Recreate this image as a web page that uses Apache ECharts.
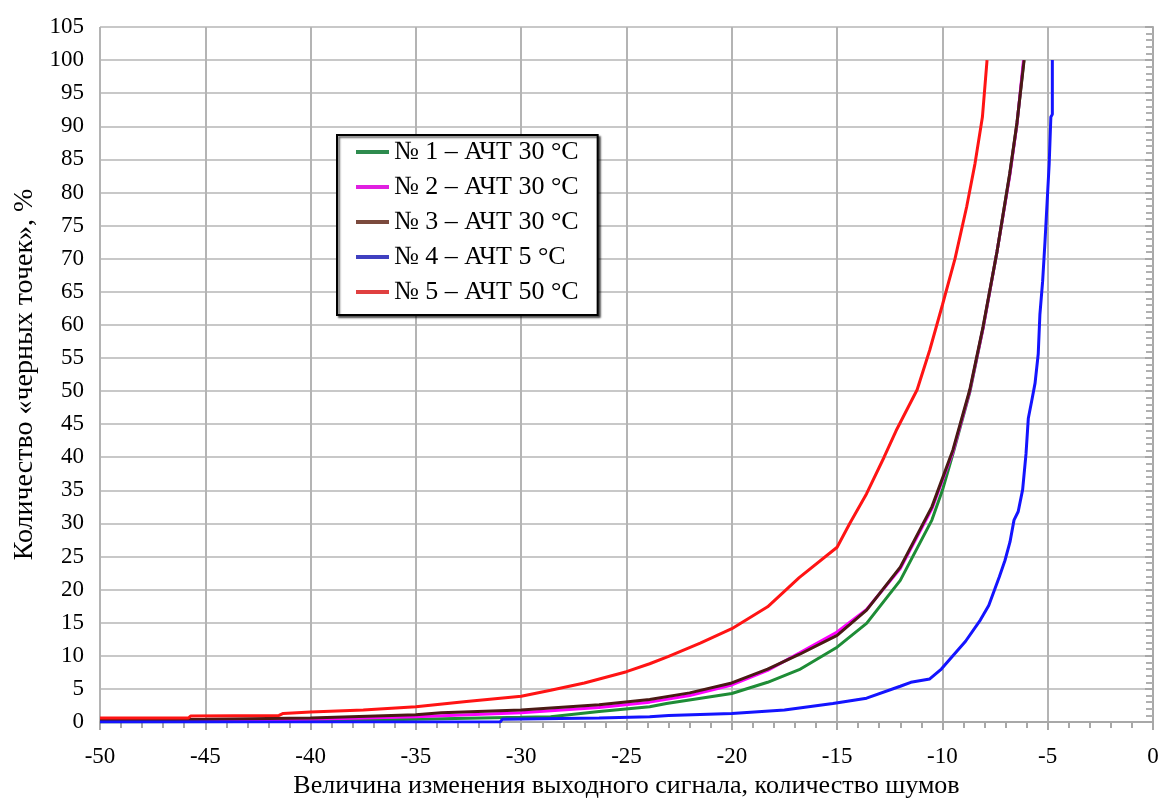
<!DOCTYPE html>
<html><head><meta charset="utf-8">
<script src="https://cdn.jsdelivr.net/npm/echarts@6/dist/echarts.min.js"></script>
<style>html,body{margin:0;padding:0;background:#fff}#c{width:1159px;height:798px}</style>
</head><body><div id="c"></div>
<script>
const seriesNames = ['№ 1 – АЧТ 30 °C','№ 2 – АЧТ 30 °C','№ 3 – АЧТ 30 °C','№ 4 – АЧТ 5 °C','№ 5 – АЧТ 50 °C'];
const xTicks = [-50,-45,-40,-35,-30,-25,-20,-15,-10,-5,0];
const yTicks = [0,5,10,15,20,25,30,35,40,45,50,55,60,65,70,75,80,85,90,95,100,105];

const s1 = [[-50,0.0],[-40,0.1],[-38.9,0.2],[-35,0.4],[-30,0.7],[-28.6,0.8],[-26.3,1.6],[-23.9,2.3],[-23.1,2.8],[-20,4.3],[-18.3,6.0],[-16.8,7.9],[-15,11.3],[-13.6,14.9],[-12,21.4],[-10.5,30.5],[-10,35],[-9.5,40.5],[-8.7,49.8],[-8.07,59.5],[-7.41,71],[-6.8,82.8],[-6.46,90.4],[-6.13,100]];
const s2 = [[-50,0.1],[-45,0.2],[-40,0.4],[-35,0.8],[-30,1.4],[-26.3,2.2],[-23.9,3.0],[-22,4.0],[-20,5.6],[-18.3,7.8],[-16.8,10.4],[-15,13.6],[-13.6,17.0],[-12,23.2],[-10.5,32.2],[-9.5,40.8],[-8.7,50.0],[-8.07,59.5],[-7.41,71],[-6.8,82.6],[-6.46,90.3],[-6.15,100]];
const s3 = [[-50,0.3],[-45,0.4],[-40,0.6],[-35,1.1],[-33.8,1.4],[-30,1.8],[-26.3,2.6],[-23.9,3.4],[-22,4.4],[-20,5.9],[-18.3,8.0],[-16.8,10.2],[-15,13.1],[-13.6,16.9],[-12,23.4],[-10.5,32.5],[-9.5,41.1],[-8.7,50.2],[-8.07,59.7],[-7.41,71.0],[-6.8,82.9],[-6.46,90.5],[-6.12,100]];
const s4 = [[-50,0.0],[-31,0.0],[-30.9,0.4],[-26.3,0.6],[-23.9,0.8],[-23,1.0],[-20,1.3],[-17.5,1.8],[-15.2,2.8],[-13.6,3.6],[-12,5.4],[-11.5,6.0],[-10.6,6.5],[-10.05,8.0],[-8.9,12.2],[-8.2,15.4],[-7.8,17.6],[-7.3,21.9],[-7.03,24.4],[-6.79,27.2],[-6.6,30.5],[-6.4,31.8],[-6.19,35.1],[-6.03,40.5],[-5.92,45.9],[-5.76,48.5],[-5.6,51.2],[-5.45,55.6],[-5.37,61.6],[-5.24,66.6],[-5.13,72.5],[-5.03,78.4],[-4.93,84.3],[-4.85,91.4],[-4.78,91.8],[-4.78,100]];
const s5 = [[-50,0.6],[-45.8,0.6],[-45.7,0.9],[-41.5,1.0],[-41.3,1.3],[-40,1.5],[-37.5,1.8],[-35,2.3],[-32.6,3.1],[-30,3.9],[-28.6,4.8],[-27,5.9],[-25,7.6],[-23.9,8.8],[-23,9.9],[-21.5,11.9],[-20,14.1],[-18.3,17.4],[-16.8,21.8],[-15,26.4],[-14.4,30],[-13.6,34.5],[-12.77,40],[-12.2,44],[-11.2,50.2],[-10.6,56.2],[-10,63],[-9.4,70],[-8.85,77.8],[-8.45,84.4],[-8.1,91.4],[-7.88,100]];

const lineColors = ['#1e8c36','#ff00ff','#4a1a14','#1414ff','#ff1414'];
const legendColors = ['#2e8b4e','#e020e0','#7b4a3d','#4040c0','#e04040'];
const allData = [s1,s2,s3,s4,s5];
const FONT = '"Liberation Serif", "Times New Roman", serif';

const chart = echarts.init(document.getElementById('c'), null, {renderer:'canvas'});
chart.setOption({
  animation:false,
  backgroundColor:'#fff',
  grid:{left:100,right:6,top:27,bottom:76,containLabel:false,outerBoundsMode:'none'},
  legend:{
    show:true, orient:'vertical', left:337, top:135,
    padding:[4,19,10,19], itemGap:9, itemWidth:33, itemHeight:4,
    icon:'rect', backgroundColor:'#fff', borderColor:'#000', borderWidth:2,
    shadowColor:'rgba(0,0,0,0.6)', shadowOffsetX:2, shadowOffsetY:2, shadowBlur:2,
    textStyle:{fontFamily:FONT, fontSize:26, color:'#000', lineHeight:26},
    data: seriesNames.map((n,i)=>({name:n, itemStyle:{color:legendColors[i]}}))
  },
  xAxis:{
    type:'value', min:-50, max:0, interval:5,
    name:'Величина изменения выходного сигнала, количество шумов',
    nameLocation:'middle', nameGap:49,
    nameTextStyle:{fontFamily:FONT, fontSize:26, color:'#000'},
    axisLine:{show:true, lineStyle:{color:'#a8a8a8', width:2}},
    axisTick:{show:true, length:8, lineStyle:{color:'#a8a8a8', width:2}},
    minorTick:{show:true, splitNumber:5, length:6, lineStyle:{color:'#a8a8a8', width:2}},
    axisLabel:{fontFamily:FONT, fontSize:23, color:'#000', margin:23,
      formatter:v=> xTicks.includes(v) ? String(v) : ''},
    splitLine:{show:true, lineStyle:{color:'#b4b4b4', width:2}}
  },
  yAxis:{
    type:'value', min:0, max:105, interval:5,
    name:'Количество «черных точек», %',
    nameLocation:'middle', nameGap:60,
    nameTextStyle:{fontFamily:FONT, fontSize:28, color:'#000'},
    axisLine:{show:true, lineStyle:{color:'#a8a8a8', width:2}},
    axisTick:{show:true, length:8, lineStyle:{color:'#a8a8a8', width:2}},
    minorTick:{show:true, splitNumber:5, length:7, lineStyle:{color:'#b0b0b0', width:2}},
    axisLabel:{fontFamily:FONT, fontSize:23, color:'#000', margin:16,
      formatter:v=> yTicks.includes(v) ? String(v) : ''},
    splitLine:{show:true, lineStyle:{color:'#c8c8c8', width:2}}
  },
  series: allData.map((d,i)=>({
    name:seriesNames[i], type:'line', data:d, showSymbol:false, symbol:'none',
    color:lineColors[i],
    lineStyle:{color:lineColors[i], width:3},
    z: 2+i
  }))
});
</script></body></html>
